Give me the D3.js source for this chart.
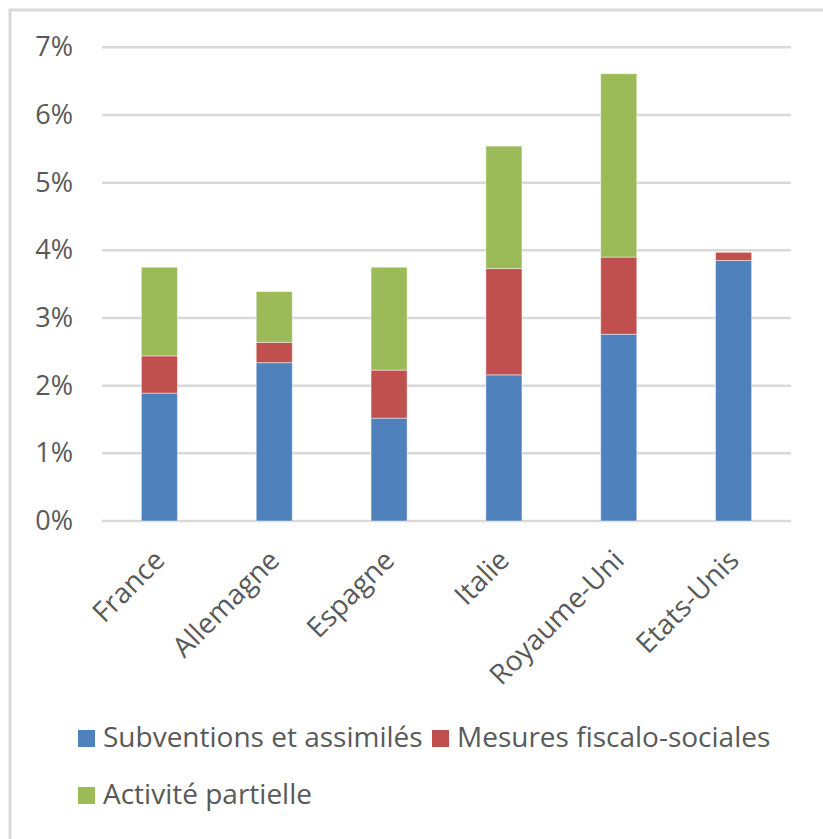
<!DOCTYPE html>
<html lang="fr">
<head>
<meta charset="utf-8">
<script src="https://cdn.jsdelivr.net/npm/d3@7/dist/d3.min.js"></script>
<style>
  html, body { margin: 0; padding: 0; background: #fff; }
  svg { display: block; }
  text { font-family: "Open Sans", Lato, sans-serif; fill: #595959; }
</style>
</head>
<body>
<svg id="chart" width="823" height="839"></svg>
<script>
// Pays comparés
const countries = ["France", "Allemagne", "Espagne", "Italie", "Royaume-Uni", "Etats-Unis"];

// Montants des mesures de soutien, en % du PIB
const subventions = [1.89, 2.34, 1.52, 2.16, 2.76, 3.85];
const mesuresFiscales = [0.55, 0.30, 0.71, 1.57, 1.14, 0.12];
const activitePartielle = [1.31, 0.75, 1.52, 1.81, 2.71, 0.00];

const seriesNames = ["Subventions et assimilés", "Mesures fiscalo-sociales", "Activité partielle"];
const seriesColors = ["#4f81bd", "#c0504d", "#9bbb59"];
const yTicks = [0, 1, 2, 3, 4, 5, 6, 7];

const svg = d3.select("#chart");
const fontFamily = "'Open Sans', Lato, sans-serif";

// Cadre du graphique
svg.append("rect")
  .attr("x", 10).attr("y", 10)
  .attr("width", 900).attr("height", 900)
  .attr("fill", "none")
  .attr("stroke", "#d9d9d9")
  .attr("stroke-width", 3);

const plot = { left: 102, right: 791, top: 47.3, bottom: 521 };

const x = d3.scaleBand()
  .domain(countries)
  .range([plot.left, plot.right])
  .paddingInner(0.686)
  .paddingOuter(0.343);

const y = d3.scaleLinear()
  .domain([0, 7])
  .range([plot.bottom, plot.top]);

// Quadrillage horizontal
svg.append("g")
  .selectAll("line")
  .data(yTicks)
  .join("line")
  .attr("x1", plot.left).attr("x2", plot.right)
  .attr("y1", d => y(d)).attr("y2", d => y(d))
  .attr("stroke", "#d9d9d9")
  .attr("stroke-width", 2.5);

// Axe vertical : étiquettes en pourcentage
const yAxis = d3.axisLeft(y)
  .tickValues(yTicks)
  .tickFormat(d => d + "%")
  .tickSize(0)
  .tickPadding(0);

const yg = svg.append("g")
  .attr("transform", "translate(73,0)")
  .call(yAxis);
yg.select(".domain").remove();
yg.selectAll("text")
  .attr("font-size", 27)
  .attr("font-family", fontFamily)
  .attr("fill", "#595959");

// Barres empilées
const rows = countries.map((c, i) => ({
  country: c,
  s0: subventions[i],
  s1: mesuresFiscales[i],
  s2: activitePartielle[i]
}));
const stacked = d3.stack().keys(["s0", "s1", "s2"])(rows);

svg.append("g")
  .selectAll("g")
  .data(stacked)
  .join("g")
  .attr("fill", (d, i) => seriesColors[i])
  .selectAll("rect")
  .data(d => d.filter(p => p[1] - p[0] > 0))
  .join("rect")
  .attr("x", d => x(d.data.country))
  .attr("width", x.bandwidth())
  .attr("y", d => y(d[1]))
  .attr("height", d => y(d[0]) - y(d[1]))
  .attr("stroke", "rgba(255,255,255,0.45)")
  .attr("stroke-width", 1);

// Axe horizontal : noms des pays inclinés
svg.append("g")
  .selectAll("text")
  .data(countries)
  .join("text")
  .attr("transform", d => `translate(${x(d) + x.bandwidth() / 2 + 7},562) rotate(-45)`)
  .attr("text-anchor", "end")
  .attr("font-size", 28)
  .text(d => d);

// Légende
const legendItems = [
  { name: seriesNames[0], color: seriesColors[0], mx: 78, my: 730 },
  { name: seriesNames[1], color: seriesColors[1], mx: 432, my: 730 },
  { name: seriesNames[2], color: seriesColors[2], mx: 78, my: 787 }
];
const lg = svg.append("g")
  .selectAll("g")
  .data(legendItems)
  .join("g")
  .attr("transform", d => `translate(${d.mx},${d.my})`);
lg.append("rect")
  .attr("width", 17).attr("height", 17)
  .attr("fill", d => d.color);
lg.append("text")
  .attr("x", 25)
  .attr("y", 17)
  .attr("font-size", 28)
  .text(d => d.name);
</script>
</body>
</html>
